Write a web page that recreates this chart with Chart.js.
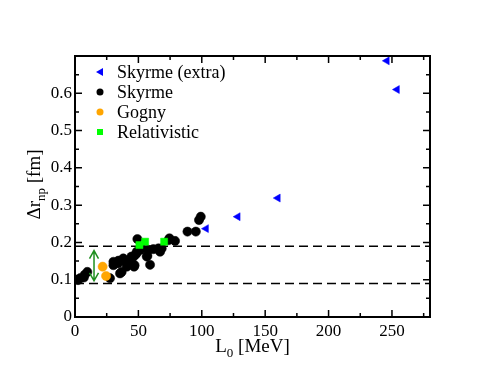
<!DOCTYPE html>
<html>
<head>
<meta charset="utf-8">
<script src="https://cdn.jsdelivr.net/npm/chart.js@4/dist/chart.umd.min.js"></script>
<style>
  body { margin: 0; background: #fff; }
  canvas { display: block; }
</style>
</head>
<body>
<canvas id="c" width="484" height="374"></canvas>
<script>
// L0 [MeV] vs delta r_np [fm]
const skyrmeL = [0, 2.4, 4, 7, 7.6, 9.7, 27.6, 30.3, 30.3, 34, 34.2, 35.5, 36.8, 37.6, 38.1, 40.8, 42, 42.9, 44.5, 44.7, 46, 46.6, 47, 47.4, 48.7, 48.7, 49.2, 51.3, 52.6, 56.6, 57.1, 57.9, 59.2, 61.8, 65.8, 67.1, 68.4, 73.7, 74.5, 78.9, 88.7, 95.3, 97.8, 99.2];
const skyrmeR = [0.101, 0.099, 0.104, 0.106, 0.113, 0.121, 0.104, 0.139, 0.148, 0.144, 0.151, 0.117, 0.121, 0.151, 0.157, 0.135, 0.148, 0.144, 0.162, 0.157, 0.162, 0.135, 0.139, 0.166, 0.171, 0.175, 0.209, 0.180, 0.184, 0.162, 0.164, 0.180, 0.140, 0.182, 0.184, 0.175, 0.184, 0.206, 0.211, 0.204, 0.229, 0.229, 0.260, 0.269];
const gognyL = [21.8, 24.5];
const gognyR = [0.135, 0.110];
const relL = [50.8, 55.3, 70.3];
const relR = [0.193, 0.202, 0.202];
const extraL = [103.4, 128.4, 160, 246, 254];
const extraR = [0.237, 0.269, 0.319, 0.687, 0.610];

const bandHi = 0.19;
const bandLo = 0.09;
const arrowL = 15;
const arrowR = [0.097, 0.178];

const xTicks = [0, 50, 100, 150, 200, 250];
const yTicks = [0, 0.1, 0.2, 0.3, 0.4, 0.5, 0.6];

const serif = "'Liberation Serif', 'Times New Roman', serif";

function pts(xs, ys) { return xs.map((x, i) => ({ x: x, y: ys[i] })); }

const legendItems = [
  { label: 'Skyrme (extra)', color: '#0000ff', shape: 'tri' },
  { label: 'Skyrme', color: '#000000', shape: 'circle' },
  { label: 'Gogny', color: '#ffa500', shape: 'circle' },
  { label: 'Relativistic', color: '#00ff00', shape: 'square' }
];

const frame = {
  id: 'frame',
  afterDraw(chart) {
    const ctx = chart.ctx;
    const a = chart.chartArea;
    const xs = chart.scales.x, ys = chart.scales.y;
    ctx.save();
    ctx.strokeStyle = '#000';
    ctx.lineWidth = 2;
    ctx.strokeRect(a.left, a.top, a.right - a.left, a.bottom - a.top);
    // inward ticks
    ctx.lineWidth = 1.5;
    ctx.beginPath();
    for (let v = 25; v <= 280; v += 25) {
      const px = xs.getPixelForValue(v);
      const len = v % 50 === 0 ? 7 : 4;
      ctx.moveTo(px, a.bottom); ctx.lineTo(px, a.bottom - len);
      ctx.moveTo(px, a.top); ctx.lineTo(px, a.top + len);
    }
    for (let k = 1; k < 14; k++) {
      const py = ys.getPixelForValue(k * 0.05);
      const len = k % 2 === 0 ? 7 : 4;
      ctx.moveTo(a.left, py); ctx.lineTo(a.left + len, py);
      ctx.moveTo(a.right, py); ctx.lineTo(a.right - len, py);
    }
    ctx.stroke();

    // green double arrow
    const ax = xs.getPixelForValue(arrowL);
    const y1 = ys.getPixelForValue(arrowR[0]);
    const y2 = ys.getPixelForValue(arrowR[1]);
    ctx.strokeStyle = '#1f8f1f';
    ctx.lineWidth = 1.5;
    ctx.beginPath();
    ctx.moveTo(ax, y1); ctx.lineTo(ax, y2);
    ctx.moveTo(ax - 4.5, y2 + 8); ctx.lineTo(ax, y2); ctx.lineTo(ax + 4.5, y2 + 8);
    ctx.moveTo(ax - 4.5, y1 - 8); ctx.lineTo(ax, y1); ctx.lineTo(ax + 4.5, y1 - 8);
    ctx.stroke();

    // legend
    ctx.textBaseline = 'middle';
    ctx.textAlign = 'left';
    ctx.font = '18px ' + serif;
    legendItems.forEach((it, i) => {
      const y = a.top + 16 + i * 20;
      const mx = a.left + 25;
      ctx.fillStyle = it.color;
      ctx.beginPath();
      if (it.shape === 'circle') {
        ctx.arc(mx, y, 3.5, 0, Math.PI * 2);
      } else if (it.shape === 'square') {
        ctx.rect(mx - 3, y - 3, 6, 6);
      } else {
        ctx.moveTo(mx - 4, y); ctx.lineTo(mx + 3, y - 4); ctx.lineTo(mx + 3, y + 4); ctx.closePath();
      }
      ctx.fill();
      ctx.fillStyle = '#000';
      ctx.fillText(it.label, a.left + 42, y + 1);
    });

    // axis titles with subscripts
    ctx.fillStyle = '#000';
    ctx.textBaseline = 'alphabetic';
    const big = '19px ' + serif, small = '13px ' + serif;
    function subTitle(main, sub, rest, cx, cy) {
      ctx.font = big; const w1 = ctx.measureText(main).width;
      ctx.font = small; const w2 = ctx.measureText(sub).width;
      ctx.font = big; const w3 = ctx.measureText(rest).width;
      let x = cx - (w1 + w2 + w3) / 2;
      ctx.font = big; ctx.fillText(main, x, cy); x += w1;
      ctx.font = small; ctx.fillText(sub, x, cy + 5); x += w2;
      ctx.font = big; ctx.fillText(rest, x, cy);
    }
    subTitle('L', '0', ' [MeV]', (a.left + a.right) / 2, 352);
    ctx.translate(40, (a.top + a.bottom) / 2 - 2);
    ctx.rotate(-Math.PI / 2);
    subTitle('\u0394r', 'np', ' [fm]', 0, 0);
    ctx.restore();
  }
};

new Chart(document.getElementById('c'), {
  type: 'scatter',
  data: {
    datasets: [
      {
        label: 'Relativistic', data: pts(relL, relR), order: 0,
        pointStyle: 'rect', pointRadius: 5, backgroundColor: '#00ff00', borderColor: '#00ff00', borderWidth: 0.5
      },
      {
        label: 'Gogny', data: pts(gognyL, gognyR), order: 1,
        pointStyle: 'circle', pointRadius: 4.6, backgroundColor: '#ffa500', borderColor: '#ffa500', borderWidth: 0.5
      },
      {
        label: 'Skyrme (extra)', data: pts(extraL, extraR), order: 2,
        pointStyle: 'triangle', rotation: -90, pointRadius: 4.6, backgroundColor: '#0000ff', borderColor: '#0000ff', borderWidth: 0.5
      },
      {
        label: 'Skyrme', data: pts(skyrmeL, skyrmeR), order: 3,
        pointStyle: 'circle', pointRadius: 4.6, backgroundColor: '#000', borderColor: '#000', borderWidth: 0.5
      },
      {
        type: 'line', data: [{ x: 0, y: bandHi }, { x: 280, y: bandHi }], order: 4,
        borderColor: '#000', borderWidth: 1.5, borderDash: [9, 5], pointRadius: 0, showLine: true
      },
      {
        type: 'line', data: [{ x: 0, y: bandLo }, { x: 280, y: bandLo }], order: 4,
        borderColor: '#000', borderWidth: 1.5, borderDash: [9, 5], pointRadius: 0, showLine: true
      }
    ]
  },
  options: {
    responsive: false,
    animation: false,
    devicePixelRatio: 1,
    layout: { padding: { top: 56, right: 54, left: 0, bottom: 0 } },
    plugins: { legend: { display: false }, tooltip: { enabled: false } },
    scales: {
      x: {
        type: 'linear', min: 0, max: 280,
        afterFit(s) { s.height = 57; },
        grid: { display: false, drawTicks: false },
        border: { display: false },
        afterBuildTicks(s) { s.ticks = xTicks.map(v => ({ value: v })); },
        ticks: { padding: 4, color: '#000', font: { family: serif, size: 17 }, maxRotation: 0 }
      },
      y: {
        type: 'linear', min: 0, max: 0.7,
        afterFit(s) { s.width = 75; },
        grid: { display: false, drawTicks: false },
        border: { display: false },
        afterBuildTicks(s) { s.ticks = yTicks.map(v => ({ value: v })); },
        ticks: {
          padding: 3, color: '#000', font: { family: serif, size: 17 },
          callback: v => String(Number(v.toFixed(1)))
        }
      }
    }
  },
  plugins: [frame]
});
</script>
</body>
</html>
